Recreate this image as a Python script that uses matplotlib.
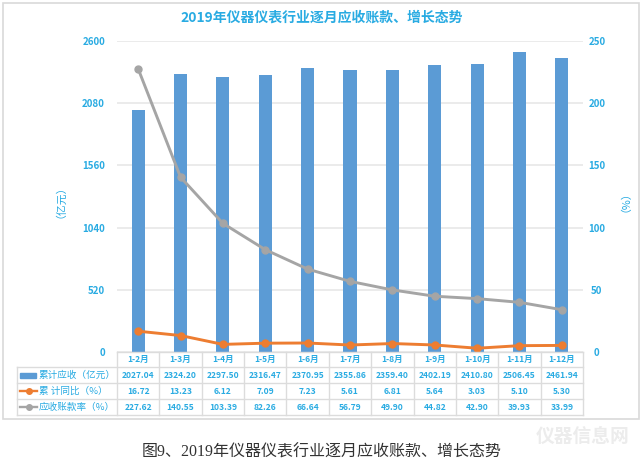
import numpy as np
import matplotlib
matplotlib.use('Agg')
import matplotlib.pyplot as plt
from matplotlib.patches import Rectangle
from matplotlib.lines import Line2D

plt.rcParams['font.family'] = ['Noto Sans CJK SC', 'DejaVu Sans']

months = ['1-2月', '1-3月', '1-4月', '1-5月', '1-6月', '1-7月', '1-8月', '1-9月', '1-10月', '1-11月', '1-12月']
receivable = [2027.04, 2324.20, 2297.50, 2316.47, 2370.95, 2355.86, 2359.40, 2402.19, 2410.80, 2506.45, 2461.94]
yoy = [16.72, 13.23, 6.12, 7.09, 7.23, 5.61, 6.81, 5.64, 3.03, 5.10, 5.30]
ratio = [227.62, 140.55, 103.39, 82.26, 66.64, 56.79, 49.90, 44.82, 42.90, 39.93, 33.99]
row_names = ['累计应收（亿元）', '累 计同比（%）', '应收账款率（%）']
left_ticks = [0, 520, 1040, 1560, 2080, 2600]
right_ticks = [0, 50, 100, 150, 200, 250]

W, H = 643, 463
BLUE = '#5b9bd5'
ORANGE = '#ed7d31'
GRAY = '#a5a5a5'
TXT = '#29abe2'
GRID = '#e6e6e6'
TAB = '#dcdcdc'

def fx(p):
    return p / W

def fy(p):
    return 1 - p / H

fig = plt.figure(figsize=(W / 100, H / 100), dpi=100)
fig.patch.set_facecolor('white')

# outer frame
fig.add_artist(Rectangle((fx(2.5), fy(419)), fx(636), 416 / H, fill=False, ec='#d9d9d9', lw=1.2))

L, R, T, B = 117, 583, 41, 352
ax = fig.add_axes([fx(L), fy(B), fx(R - L), (B - T) / H])
x = np.arange(len(months))
ax.bar(x, receivable, width=0.31, color=BLUE, zorder=2)
ax.set_xlim(-0.5, len(months) - 0.5)
ax.set_ylim(0, 2600)
ax.set_yticks(left_ticks)
ax.set_xticks([])
ax.grid(axis='y', color=GRID, lw=1.1, zorder=0)
ax.set_axisbelow(True)
ax.tick_params(axis='y', length=0, pad=8.6, labelsize=7, labelcolor=TXT)
for lab in ax.get_yticklabels():
    lab.set_fontweight('bold')
for s in ['top', 'right', 'left', 'bottom']:
    ax.spines[s].set_visible(False)

ax2 = ax.twinx()
ax2.plot(x, yoy, color=ORANGE, lw=2.1, marker='o', ms=5, zorder=3)
ax2.plot(x, ratio, color=GRAY, lw=2.1, marker='o', ms=5, zorder=3)
ax2.set_ylim(0, 250)
ax2.set_yticks(right_ticks)
ax2.tick_params(axis='y', length=0, pad=10, labelsize=7, labelcolor=TXT)
for lab in ax2.get_yticklabels():
    lab.set_fontweight('bold')
    lab.set_ha('center')
for s in ['top', 'right', 'left', 'bottom']:
    ax2.spines[s].set_visible(False)

fig.text(fx(322), fy(18), '2019年仪器仪表行业逐月应收账款、增长态势', color=TXT, fontsize=10,
         fontweight='bold', ha='center', va='center')
fig.text(fx(55), fy(196), '（亿元）', color=TXT, fontsize=7.8, rotation=90, ha='center', va='center')
fig.text(fx(620), fy(196), '（%）', color=TXT, fontsize=7.8, rotation=90, ha='center', va='center')

# data table under the axes
rows_y = [352, 367, 383, 399, 415]
TL = 17
col_w = (R - L) / len(months)


def tline(x0, y0, x1, y1):
    fig.add_artist(Line2D([fx(x0), fx(x1)], [fy(y0), fy(y1)], color=TAB, lw=1))


tline(L, rows_y[0], R, rows_y[0])
for y in rows_y[1:]:
    tline(TL, y, R, y)
tline(TL, rows_y[1], TL, rows_y[4])
for i in range(len(months) + 1):
    tline(L + i * col_w, rows_y[0], L + i * col_w, rows_y[4])

table_rows = [months,
              ['%.2f' % v for v in receivable],
              ['%.2f' % v for v in yoy],
              ['%.2f' % v for v in ratio]]
for r, vals in enumerate(table_rows):
    yc = (rows_y[r] + rows_y[r + 1]) / 2
    for i, v in enumerate(vals):
        fig.text(fx(L + (i + 0.5) * col_w), fy(yc), v, color=TXT, fontsize=6.1,
                 fontweight='bold', ha='center', va='center')

# legend keys in the table
for r, name in enumerate(row_names):
    yc = (rows_y[r + 1] + rows_y[r + 2]) / 2
    fig.text(fx(39), fy(yc), name, color=TXT, fontsize=6.9, ha='left', va='center')
fig.add_artist(Rectangle((fx(20), fy(rows_y[1] + 10.5)), fx(16), 5 / H, color=BLUE))
for r, c in [(1, ORANGE), (2, GRAY)]:
    yc = (rows_y[r + 1] + rows_y[r + 2]) / 2
    fig.add_artist(Line2D([fx(20), fx(37)], [fy(yc), fy(yc)], color=c, lw=1.7))
    fig.add_artist(Line2D([fx(28.5)], [fy(yc)], color=c, marker='o', ms=4))

fig.text(fx(322), fy(453), '图9、2019年仪器仪表行业逐月应收账款、增长态势',
         family=['Liberation Serif', 'Noto Sans CJK SC'], color='#333333', fontsize=11.5,
         ha='center', va='center')
fig.text(fx(583), fy(436), '仪器信息网', color='#ececec', fontsize=13.5, fontweight='bold',
         ha='center', va='center')

fig.savefig('out.png', dpi=100)
